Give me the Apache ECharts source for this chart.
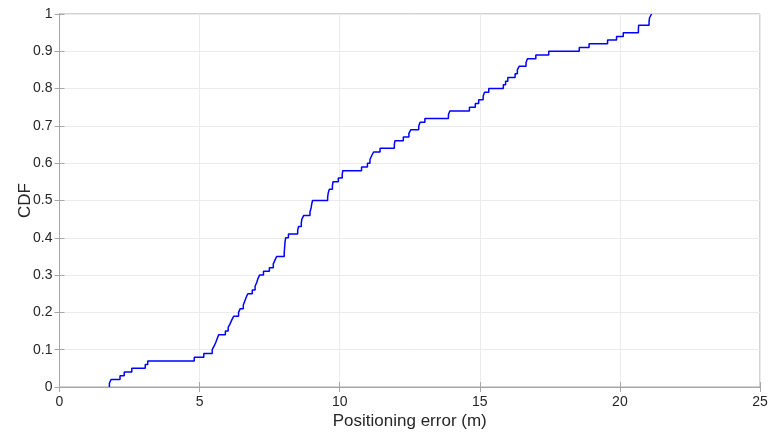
<!DOCTYPE html>
<html>
<head>
<meta charset="utf-8">
<script src="https://cdn.jsdelivr.net/npm/echarts@6/dist/echarts.min.js"></script>
<style>html,body{margin:0;padding:0;background:#fff}#c{width:768px;height:432px}</style>
</head>
<body>
<div id="c"></div>
<script>
// Sorted positioning errors (m) where the empirical CDF steps
const errors = [1.78,1.84,2.16,2.31,2.58,3.06,3.15,4.81,5.15,5.45,
5.52,5.58,5.63,5.68,5.92,6.02,6.09,6.15,6.22,6.39,
6.45,6.56,6.61,6.66,6.72,6.88,6.98,7.04,7.08,7.14,
7.28,7.49,7.63,7.69,7.75,8.02,8.03,8.04,8.05,8.07,
8.17,8.50,8.53,8.63,8.65,8.72,8.94,8.98,9.00,9.03,
9.57,9.59,9.63,9.74,9.76,9.95,10.09,10.11,10.78,10.99,
11.08,11.14,11.21,11.44,11.95,11.97,12.27,12.47,12.54,12.82,
12.87,13.04,13.88,13.93,14.63,14.84,14.96,15.12,15.17,15.32,
15.84,15.92,16.00,16.26,16.34,16.41,16.65,16.70,17.00,17.46,
18.55,18.90,19.56,19.88,20.12,20.66,20.67,21.04,21.06,21.13];
// CDF level reached at each error value
const cdfValues = [0.01,0.02,0.03,0.04,0.05,0.06,0.07,0.08,0.09,0.10,
0.11,0.12,0.13,0.14,0.15,0.16,0.17,0.18,0.19,0.20,
0.21,0.22,0.23,0.24,0.25,0.26,0.27,0.28,0.29,0.30,
0.31,0.32,0.33,0.34,0.35,0.36,0.37,0.38,0.39,0.40,
0.41,0.42,0.43,0.44,0.45,0.46,0.47,0.48,0.49,0.50,
0.51,0.52,0.53,0.54,0.55,0.56,0.57,0.58,0.59,0.60,
0.61,0.62,0.63,0.64,0.65,0.66,0.67,0.68,0.69,0.70,
0.71,0.72,0.73,0.74,0.75,0.76,0.77,0.78,0.79,0.80,
0.81,0.82,0.83,0.84,0.85,0.86,0.87,0.88,0.89,0.90,
0.91,0.92,0.93,0.94,0.95,0.96,0.97,0.98,0.99,1.00];
const xTicks = [0,5,10,15,20,25];
const yTicks = [0,0.1,0.2,0.3,0.4,0.5,0.6,0.7,0.8,0.9,1];
const xName = 'Positioning error (m)';
const yName = 'CDF';

const pts = [[errors[0], 0]];
for (let i = 0; i < errors.length; i++) pts.push([errors[i], cdfValues[i]]);

const axisColor = '#a6a6a6';
const textColor = '#262626';
const font = 'Liberation Sans, Arial, Helvetica, sans-serif';

const chart = echarts.init(document.getElementById('c'), null, {renderer: 'canvas'});
chart.setOption({
  animation: false,
  backgroundColor: '#ffffff',
  grid: {left: 59.5, right: 8, top: 14, bottom: 45, show: true, borderColor: axisColor, borderWidth: 1,
         containLabel: false, outerBoundsMode: 'none'},
  xAxis: [{
    type: 'value', min: xTicks[0], max: xTicks[xTicks.length-1], interval: 5,
    name: xName, nameLocation: 'middle', nameGap: 26, nameMoveOverlap: false,
    nameTextStyle: {fontFamily: font, fontSize: 17, color: textColor},
    axisLine: {show: true, lineStyle: {color: axisColor}},
    axisTick: {show: true, inside: true, length: 5, lineStyle: {color: axisColor}},
    axisLabel: {fontFamily: font, fontSize: 14, color: textColor, margin: 8},
    splitLine: {show: true, lineStyle: {color: '#ebebeb', width: 1}}
  }, {
    type: 'value', position: 'top', min: 0, max: 25, interval: 5,
    axisLine: {show: true, lineStyle: {color: axisColor}},
    axisTick: {show: true, inside: true, length: 5, lineStyle: {color: axisColor}},
    axisLabel: {show: false}, splitLine: {show: false}
  }],
  yAxis: [{
    type: 'value', min: yTicks[0], max: yTicks[yTicks.length-1], interval: 0.1,
    name: yName, nameLocation: 'middle', nameGap: 26, nameRotate: 90, nameMoveOverlap: false,
    nameTextStyle: {fontFamily: font, fontSize: 17, color: textColor},
    axisLine: {show: true, lineStyle: {color: axisColor}},
    axisTick: {show: true, inside: true, length: 5, lineStyle: {color: axisColor}},
    axisLabel: {fontFamily: font, fontSize: 14, color: textColor, margin: 7,
      formatter: v => (Math.round(v*10)/10).toString()},
    splitLine: {show: true, lineStyle: {color: '#ebebeb', width: 1}}
  }, {
    type: 'value', position: 'right', min: 0, max: 1, interval: 0.1,
    axisLine: {show: true, lineStyle: {color: axisColor}},
    axisTick: {show: true, inside: true, length: 5, lineStyle: {color: axisColor}},
    axisLabel: {show: false}, splitLine: {show: false}
  }],
  series: [{
    type: 'line', step: 'end', data: pts, xAxisIndex: 0, yAxisIndex: 0,
    showSymbol: false, symbol: 'none',
    lineStyle: {color: '#0000ff', width: 1.5}
  }]
});
</script>
</body>
</html>
